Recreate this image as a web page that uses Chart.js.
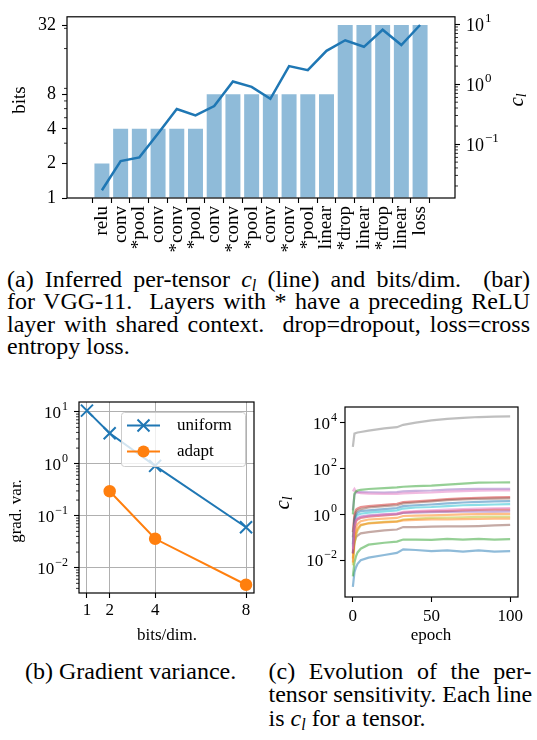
<!DOCTYPE html>
<html>
<head>
<meta charset="utf-8">
<script src="https://cdn.jsdelivr.net/npm/chart.js@4.4.0/dist/chart.umd.min.js"></script>
<style>
html, body { margin: 0; padding: 0; background: #fff; }
body { width: 537px; height: 740px; position: relative; overflow: hidden;
       font-family: 'Liberation Serif', serif; color: #000; }
canvas { position: absolute; }
#ca { left: 0; top: 0; }
#cb { left: 0; top: 390px; }
#cc { left: 270px; top: 390px; }
.cap { position: absolute; font-size: 24px; }
.cap div { white-space: nowrap; text-align: justify; text-align-last: justify; }
.cap div.last { text-align-last: left; }
.cap sub { font-size: 16px; line-height: 0; vertical-align: -4px; }
</style>
</head>
<body>
<canvas id="ca" width="537" height="262"></canvas>
<canvas id="cb" width="270" height="260"></canvas>
<canvas id="cc" width="267" height="260"></canvas>

<div class="cap" style="left:7px; top:267.6px; width:523px; line-height:22.5px;">
  <div>(a) Inferred per-tensor <i>c</i><sub><i>l</i></sub> (line) and bits/dim.&nbsp; (bar)</div>
  <div>for VGG-11.&nbsp; Layers with * have a preceding ReLU</div>
  <div>layer with shared context.&nbsp; drop=dropout, loss=cross</div>
  <div class="last">entropy loss.</div>
</div>
<div class="cap" style="left:25px; top:660.2px; line-height:23.3px;">
  <div class="last">(b) Gradient variance.</div>
</div>
<div class="cap" style="left:268.5px; top:660.2px; width:263px; line-height:23.3px;">
  <div>(c) Evolution of the per-</div>
  <div>tensor sensitivity. Each line</div>
  <div class="last">is <i>c</i><sub><i>l</i></sub> for a tensor.</div>
</div>

<script>
const FONT = "'Liberation Serif', serif";
Chart.defaults.font.family = FONT;
Chart.defaults.color = '#000';

// (a) VGG-11 layers
const layers = ['relu', 'conv', '*pool', 'conv', '*conv', '*pool', 'conv', '*conv', '*pool',
                'conv', '*conv', '*pool', 'linear', '*drop', 'linear', '*drop', 'linear', 'loss'];
const bits = [2, 4, 4, 4, 4, 4, 8, 8, 8, 8, 8, 8, 8, 32, 32, 32, 32, 32];
const clLayer = [0.017, 0.052, 0.060, 0.15, 0.385, 0.30, 0.43, 1.11, 0.90,
                 0.57, 2.0, 1.71, 3.6, 5.4, 4.2, 8.1, 4.5, 9.7];
const bitTicks = [1, 2, 4, 8, 32];

// (b) gradient variance
const bitsDim = [1, 2, 4, 8];
const uniformVar = [10.5, 3.85, 0.91, 0.06];
const adaptBits = [2, 4, 8];
const adaptVar = [0.295, 0.036, 0.0047];

// (c) per-tensor c_l over training
const epochs = [0, 1, 2, 3, 5, 10, 20, 28, 32, 40, 50, 60, 70, 80, 90, 100];
const cl0  = [0.0007, 0.003, 0.005, 0.007, 0.01, 0.013, 0.017, 0.021, 0.03, 0.028, 0.025, 0.027, 0.024, 0.027, 0.024, 0.025];
const cl1  = [0.012, 0.12, 0.28, 0.38, 0.5, 0.6, 0.65, 0.7, 0.85, 0.88, 0.9, 0.95, 1.0, 1.02, 1.05, 1.05];
const cl2  = [0.002, 0.008, 0.015, 0.022, 0.032, 0.048, 0.058, 0.065, 0.08, 0.08, 0.078, 0.085, 0.08, 0.086, 0.08, 0.083];
const cl3  = [0.17, 1.0, 1.6, 1.8, 2.1, 2.3, 2.6, 2.9, 3.4, 3.7, 4.1, 4.6, 5.0, 5.3, 5.5, 5.6];
const cl4  = [1.5, 7, 9, 9.3, 9.3, 9.2, 9.0, 9.3, 10, 10.5, 11, 12, 12.5, 13, 13, 13];
const cl5  = [0.02, 0.06, 0.1, 0.12, 0.15, 0.17, 0.2, 0.22, 0.28, 0.28, 0.29, 0.3, 0.3, 0.31, 0.33, 0.35];
const cl6  = [10, 13, 10, 9, 8.5, 8, 7.8, 7.9, 8.3, 8.6, 9, 9.8, 10.3, 10.8, 11, 11];
const cl7  = [870, 3300, 3500, 3700, 3900, 4500, 5600, 6300, 8000, 10000, 12500, 14500, 16000, 17500, 18200, 18600];
const cl8  = [0.006, 0.05, 0.12, 0.2, 0.33, 0.42, 0.47, 0.5, 0.6, 0.65, 0.7, 0.72, 0.75, 0.78, 0.8, 0.8];
const cl9  = [0.04, 0.5, 0.8, 0.95, 1.07, 1.2, 1.35, 1.5, 1.8, 2.0, 2.1, 2.3, 2.5, 2.6, 2.7, 2.8];
const cl10 = [0.05, 0.6, 1.0, 1.2, 1.4, 1.5, 1.7, 1.9, 2.3, 2.5, 2.7, 3.0, 3.3, 3.5, 3.7, 3.8];
const cl11 = [0.008, 0.08, 0.15, 0.25, 0.35, 0.4, 0.45, 0.48, 0.55, 0.58, 0.6, 0.6, 0.62, 0.63, 0.65, 0.65];
const cl12 = [1.0, 8, 10, 11, 11.8, 12.8, 14, 15, 16, 17, 18, 20, 22, 24, 24.5, 25];
const cl13 = [0.02, 0.25, 0.5, 0.6, 0.7, 0.8, 0.9, 1.0, 1.2, 1.3, 1.35, 1.4, 1.5, 1.55, 1.6, 1.6];
const cl14 = [0.02, 0.35, 0.6, 0.7, 0.8, 0.9, 1.0, 1.05, 1.15, 1.2, 1.25, 1.28, 1.3, 1.32, 1.33, 1.35];
const cl15 = [0.1, 0.7, 1.3, 1.5, 1.7, 2.0, 2.3, 2.5, 3.0, 3.3, 3.7, 4.2, 4.5, 4.7, 4.9, 5.0];
const cl16 = [0.03, 0.3, 0.55, 0.65, 0.77, 0.85, 1.0, 1.1, 1.3, 1.4, 1.5, 1.6, 1.7, 1.8, 1.85, 1.9];
const tensorLines = [cl0, cl1, cl2, cl3, cl4, cl5, cl6, cl7, cl8, cl9, cl10, cl11, cl12, cl13, cl14, cl15, cl16];

const tab10 = ['#1f77b4', '#ff7f0e', '#2ca02c', '#d62728', '#9467bd',
               '#8c564b', '#e377c2', '#7f7f7f', '#bcbd22', '#17becf'];

function alpha(hex, a) {
    const n = parseInt(hex.slice(1), 16);
    return `rgba(${n >> 16},${(n >> 8) & 255},${n & 255},${a})`;
}

function decades(lo, hi) {
    const out = [];
    for (let e = Math.floor(Math.log10(lo)); e <= Math.ceil(Math.log10(hi)); e++)
        for (let m = 2; m <= 9; m++) out.push(m * Math.pow(10, e));
    return out;
}

// "10" with a raised exponent, like matplotlib's log labels
function drawPow(ctx, e, x, y, align, size) {
    const base = '10', sup = (e < 0 ? '\u2212' : '') + Math.abs(e);
    const fb = size + 'px ' + FONT, fs = Math.round(size * 0.7) + 'px ' + FONT;
    ctx.font = fb; const wb = ctx.measureText(base).width;
    ctx.font = fs; const ws = ctx.measureText(sup).width;
    const x0 = align === 'right' ? x - wb - ws - 1 : x;
    ctx.fillStyle = '#000'; ctx.textAlign = 'left'; ctx.textBaseline = 'alphabetic';
    ctx.font = fb; ctx.fillText(base, x0, y + size * 0.36);
    ctx.font = fs; ctx.fillText(sup, x0 + wb + 1, y - size * 0.12);
}

function drawTitle(ctx, t) {
    ctx.save();
    ctx.translate(t.x, t.y);
    ctx.rotate(t.rot || 0);
    ctx.fillStyle = '#000'; ctx.textAlign = 'left'; ctx.textBaseline = 'middle';
    const fonts = t.parts.map(p => (p.italic ? 'italic ' : '') + p.size + 'px ' + FONT);
    let w = 0;
    t.parts.forEach((p, i) => { ctx.font = fonts[i]; w += ctx.measureText(p.text).width; });
    let x = -w / 2;
    t.parts.forEach((p, i) => {
        ctx.font = fonts[i];
        ctx.fillText(p.text, x, p.dy || 0);
        x += ctx.measureText(p.text).width;
    });
    ctx.restore();
}

// frame, minor ticks, power-of-ten labels and axis titles
function deco(spec) {
    return {
        id: 'deco',
        afterDraw(chart) {
            const ctx = chart.ctx, a = chart.chartArea;
            ctx.save();
            ctx.strokeStyle = '#000';
            (spec.minor || []).forEach(m => {
                const s = chart.scales[m.axis];
                const left = s.position === 'left';
                const x0 = left ? a.left : a.right;
                ctx.lineWidth = 0.8;
                m.values.forEach(v => {
                    const y = s.getPixelForValue(v);
                    if (y < a.top - 0.5 || y > a.bottom + 0.5) return;
                    ctx.beginPath(); ctx.moveTo(x0, y); ctx.lineTo(x0 + (left ? -3 : 3), y); ctx.stroke();
                });
            });
            ctx.lineWidth = 1.2;
            ctx.strokeRect(a.left, a.top, a.width, a.height);
            (spec.pow || []).forEach(p => {
                const s = chart.scales[p.axis];
                const left = s.position === 'left';
                p.values.forEach(v => {
                    const y = s.getPixelForValue(v);
                    const x = left ? a.left - p.gap : a.right + p.gap;
                    drawPow(ctx, Math.round(Math.log10(v)), x, y, left ? 'right' : 'left', p.size);
                });
            });
            (spec.titles || []).forEach(t => drawTitle(ctx, t));
            ctx.restore();
        }
    };
}

const tickGrid = { drawOnChartArea: false, drawTicks: true, tickLength: 5, tickColor: '#000', tickWidth: 1.1 };
const common = {
    responsive: false,
    animation: false,
    devicePixelRatio: 1,
    events: [],
    plugins: { legend: { display: false }, tooltip: { enabled: false } }
};

// ---------- (a) ----------
new Chart(document.getElementById('ca'), {
    type: 'bar',
    data: {
        datasets: [
            {
                type: 'line', yAxisID: 'yc', order: 0,
                data: clLayer.map((v, i) => ({ x: i, y: v })),
                borderColor: '#1f77b4', borderWidth: 2.5, pointRadius: 0
            },
            {
                type: 'bar', yAxisID: 'y', order: 1, base: 1,
                data: bits.map((v, i) => ({ x: i, y: v })),
                backgroundColor: alpha('#1f77b4', 0.5),
                barPercentage: 0.8, categoryPercentage: 1.0
            }
        ]
    },
    options: {
        ...common,
        layout: { padding: { top: 3, left: 0, right: 0, bottom: 0 } },
        scales: {
            x: {
                type: 'linear', min: -1.29, max: 18.29,
                afterBuildTicks: s => { s.ticks = layers.map((_, i) => ({ value: i })); },
                afterFit: s => { s.height = 64; },
                grid: tickGrid, border: { display: false },
                ticks: { autoSkip: false, minRotation: 90, maxRotation: 90, padding: 3,
                         font: { size: 19 }, callback: v => layers[v] }
            },
            y: {
                type: 'logarithmic', position: 'left', min: 1, max: 37.8,
                afterBuildTicks: s => { s.ticks = bitTicks.map(v => ({ value: v })); },
                afterFit: s => { s.width = 67; },
                grid: tickGrid, border: { display: false },
                ticks: { padding: 6, font: { size: 18 }, callback: v => String(v) }
            },
            yc: {
                type: 'logarithmic', position: 'right', min: 0.0126, max: 13.3,
                afterBuildTicks: s => { s.ticks = [0.1, 1, 10].map(v => ({ value: v })); },
                afterFit: s => { s.width = 82; },
                grid: tickGrid, border: { display: false },
                ticks: { display: false }
            }
        }
    },
    plugins: [deco({
        minor: [
            { axis: 'y', values: [3, 5, 6, 7, 9, 20, 30] },
            { axis: 'yc', values: decades(0.01, 10) }
        ],
        pow: [{ axis: 'yc', values: [0.1, 1, 10], gap: 11, size: 18 }],
        titles: [
            { x: 20, y: 100, rot: -Math.PI / 2, parts: [{ text: 'bits', size: 19 }] },
            { x: 517, y: 100, rot: -Math.PI / 2,
              parts: [{ text: 'c', size: 21, italic: true }, { text: 'l', size: 14, italic: true, dy: 5 }] }
        ]
    })]
});

// ---------- (b) ----------
const legendB = {
    id: 'legendB',
    afterDatasetsDraw(chart) {
        const ctx = chart.ctx;
        ctx.save();
        ctx.beginPath();
        ctx.roundRect(121.5, 22.5, 124, 54, 3);
        ctx.fillStyle = 'rgba(255,255,255,0.8)'; ctx.fill();
        ctx.strokeStyle = '#cccccc'; ctx.lineWidth = 1; ctx.stroke();
        chart.data.datasets.forEach((ds, i) => {
            const y = 35.5 + i * 26;
            ctx.strokeStyle = ds.borderColor; ctx.lineWidth = 2;
            ctx.beginPath(); ctx.moveTo(127, y); ctx.lineTo(160, y); ctx.stroke();
            const cx = 143.5;
            if (ds.pointStyle === 'crossRot') {
                ctx.beginPath();
                ctx.moveTo(cx - 6, y - 6); ctx.lineTo(cx + 6, y + 6);
                ctx.moveTo(cx - 6, y + 6); ctx.lineTo(cx + 6, y - 6);
                ctx.stroke();
            } else {
                ctx.beginPath(); ctx.arc(cx, y, 6, 0, Math.PI * 2);
                ctx.fillStyle = ds.borderColor; ctx.fill();
            }
            ctx.fillStyle = '#000'; ctx.font = '17px ' + FONT;
            ctx.textAlign = 'left'; ctx.textBaseline = 'middle';
            ctx.fillText(ds.label, 177, y);
        });
        ctx.restore();
    }
};

const gridB = { drawOnChartArea: true, color: '#b0b0b0', lineWidth: 1,
                drawTicks: true, tickLength: 5, tickColor: '#000', tickWidth: 1.1 };

new Chart(document.getElementById('cb'), {
    type: 'line',
    data: {
        datasets: [
            {
                label: 'uniform',
                data: bitsDim.map((b, i) => ({ x: b, y: uniformVar[i] })),
                borderColor: '#1f77b4', borderWidth: 2,
                pointStyle: 'crossRot', pointRadius: 8.5, pointBorderWidth: 2,
                pointBorderColor: '#1f77b4', clip: false
            },
            {
                label: 'adapt',
                data: adaptBits.map((b, i) => ({ x: b, y: adaptVar[i] })),
                borderColor: '#ff7f0e', borderWidth: 2,
                pointStyle: 'circle', pointRadius: 5.5, pointBorderWidth: 1.5,
                pointBackgroundColor: '#ff7f0e', pointBorderColor: '#ff7f0e', clip: false
            }
        ]
    },
    options: {
        ...common,
        layout: { padding: { top: 12, left: 0, right: 16, bottom: 0 } },
        scales: {
            x: {
                type: 'linear', min: 0.65, max: 8.35,
                afterBuildTicks: s => { s.ticks = bitsDim.map(v => ({ value: v })); },
                afterFit: s => { s.height = 57; },
                grid: gridB, border: { display: false },
                ticks: { padding: 2, font: { size: 17 }, callback: v => String(v) }
            },
            y: {
                type: 'logarithmic', min: 0.00326, max: 15.4,
                afterBuildTicks: s => { s.ticks = [0.01, 0.1, 1, 10].map(v => ({ value: v })); },
                afterFit: s => { s.width = 79; },
                grid: gridB, border: { display: false },
                ticks: { display: false }
            }
        }
    },
    plugins: [legendB, deco({
        minor: [{ axis: 'y', values: decades(0.001, 10) }],
        pow: [{ axis: 'y', values: [0.01, 0.1, 1, 10], gap: 11, size: 17 }],
        titles: [
            { x: 17, y: 121, rot: -Math.PI / 2, parts: [{ text: 'grad. var.', size: 17 }] },
            { x: 167, y: 246, parts: [{ text: 'bits/dim.', size: 17 }] }
        ]
    })]
});

// ---------- (c) ----------
new Chart(document.getElementById('cc'), {
    type: 'line',
    data: {
        datasets: tensorLines.map((line, i) => ({
            data: epochs.map((e, k) => ({ x: e, y: line[k] })),
            borderColor: alpha(tab10[i % 10], 0.5),
            borderWidth: 2.2, pointRadius: 0, tension: 0,
            order: tensorLines.length - i
        }))
    },
    options: {
        ...common,
        layout: { padding: { top: 17, left: 0, right: 19, bottom: 0 } },
        scales: {
            x: {
                type: 'linear', min: -5, max: 105,
                afterBuildTicks: s => { s.ticks = [0, 50, 100].map(v => ({ value: v })); },
                afterFit: s => { s.height = 53; },
                grid: tickGrid, border: { display: false },
                ticks: { padding: 4, font: { size: 17 }, callback: v => String(v) }
            },
            y: {
                type: 'logarithmic', min: 0.000251, max: 47860,
                afterBuildTicks: s => { s.ticks = [0.01, 1, 100, 10000].map(v => ({ value: v })); },
                afterFit: s => { s.width = 75; },
                grid: tickGrid, border: { display: false },
                ticks: { display: false }
            }
        }
    },
    plugins: [deco({
        pow: [{ axis: 'y', values: [0.01, 1, 100, 10000], gap: 8, size: 17 }],
        titles: [
            { x: 13, y: 113, rot: -Math.PI / 2,
              parts: [{ text: 'c', size: 21, italic: true }, { text: 'l', size: 14, italic: true, dy: 5 }] },
            { x: 161, y: 246, parts: [{ text: 'epoch', size: 17 }] }
        ]
    })]
});
</script>
</body>
</html>
